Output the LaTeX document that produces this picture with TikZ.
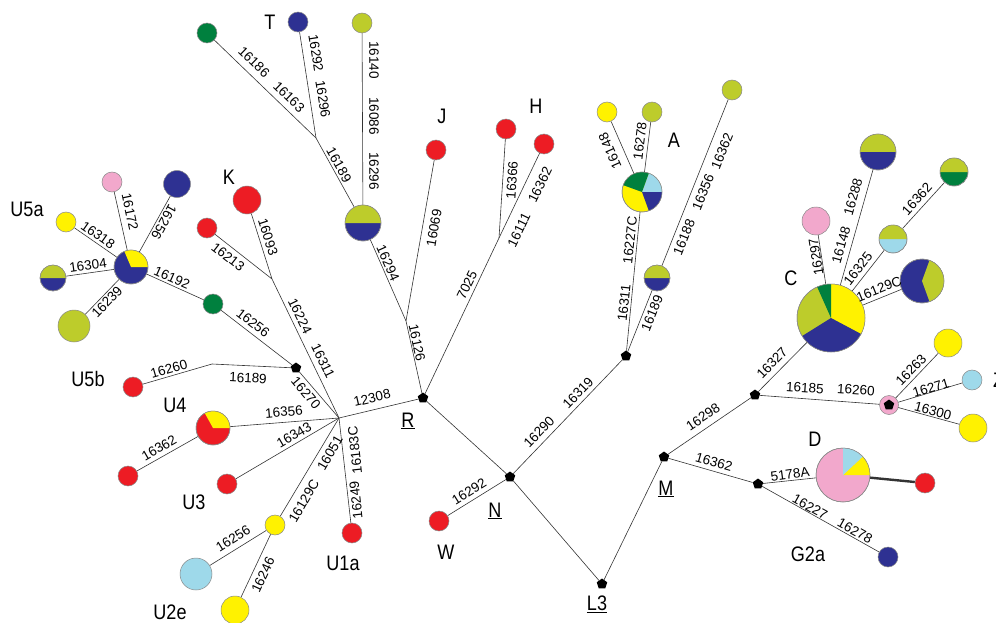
\documentclass[tikz,border=0pt]{standalone}
\usepackage{fontspec}
\setmainfont{Liberation Sans}
\newfontfamily\grpfont[FakeStretch=0.86]{Liberation Sans}
\usetikzlibrary{shapes.geometric,backgrounds}
\definecolor{hapred}{HTML}{ED1C24}
\definecolor{hapyellow}{HTML}{FFF200}
\definecolor{hapblue}{HTML}{2E3192}
\definecolor{hapolive}{HTML}{BDCC2B}
\definecolor{hapgreen}{HTML}{00803E}
\definecolor{happink}{HTML}{F2A8CC}
\definecolor{haplight}{HTML}{9ED9EA}
\definecolor{hapedge}{HTML}{8A8A8A}

% pie slice: node, radius, from, to, colour
\newcommand{\slice}[5]{\fill[#5] (#1.center) -- ++(#3:#2) arc[start angle=#3, end angle=#4, radius=#2] -- cycle;}
\newcommand{\rim}[2]{\draw[hapedge, line width=0.5pt] (#1.center) circle[radius=#2];}

\begin{document}
\begin{tikzpicture}[x=1pt, y=-1pt,
    hap/.style={circle, draw=hapedge, line width=0.5pt, fill=#1, inner sep=0pt},
    jct/.style={regular polygon, regular polygon sides=5, fill=black, inner sep=0pt, minimum size=11pt},
    link/.style={draw=black!80, line width=0.6pt},
    mut/.style={font=\fontsize{13.5}{15}\selectfont, inner sep=0pt},
    grp/.style={font=\grpfont\fontsize{21}{23}\selectfont, inner sep=0pt},
  ]
  \useasboundingbox (0,0) rectangle (996,623);

  % ---- junctions
  \coordinate (hubU) at (339,418);
  \coordinate (bendU) at (212,364);
  \coordinate (nK) at (272,279);
  \coordinate (nT) at (316,138);
  \coordinate (nJ) at (406,321);
  \coordinate (nH) at (499,238);
  \node[hap=happink, minimum size=19pt] (zring) at (889,405) {};
  \node[jct] (R) at (423,398) {};
  \node[jct] (N) at (510,477) {};
  \node[jct] (L3) at (602,584) {};
  \node[jct] (M) at (664,457) {};
  \node[jct] (nA) at (626,356) {};
  \node[jct] (nC) at (755,395) {};
  \node[jct] (nD) at (758,484) {};
  \node[jct] (nU5) at (296,368) {};
  \node[jct] (nZ) at (889,405) {};

  % ---- U branch
  \node[hap=hapblue, minimum size=34pt] (u5hub) at (131,267) {};
  \slice{u5hub}{17pt}{0}{113}{hapyellow} \rim{u5hub}{17pt}
  \node[hap=happink, minimum size=20pt] (u5pink) at (112,182) {};
  \node[hap=hapblue, minimum size=27pt] (u5blue) at (177,184) {};
  \node[hap=hapyellow, minimum size=20pt] (u5yel) at (66,222) {};
  \node[hap=hapblue, minimum size=26pt] (u5half) at (53,278) {};
  \slice{u5half}{13pt}{0}{180}{hapolive} \rim{u5half}{13pt}
  \node[hap=hapolive, minimum size=32pt] (u5olive) at (74,326) {};
  \node[hap=hapgreen, minimum size=20pt] (u5green) at (213,304) {};
  \node[hap=hapred, minimum size=20pt] (U5b) at (133,387) {};
  \node[hap=hapred, minimum size=34pt] (U4) at (213,428) {};
  \slice{U4}{17pt}{0}{119}{hapyellow} \rim{U4}{17pt}
  \node[hap=hapred, minimum size=20pt] (U4leaf) at (128,476) {};
  \node[hap=hapred, minimum size=20pt] (U3) at (227,484) {};
  \node[hap=hapyellow, minimum size=20pt] (U2) at (275,525) {};
  \node[hap=haplight, minimum size=32pt] (U2e) at (196,574) {};
  \node[hap=hapyellow, minimum size=28pt] (U2leaf) at (235,610) {};
  \node[hap=hapred, minimum size=20pt] (U1a) at (352,533) {};

  % ---- K, T, J, H
  \node[hap=hapred, minimum size=28pt] (K) at (247,200) {};
  \node[hap=hapred, minimum size=20pt] (K2) at (207,228) {};
  \node[hap=hapgreen, minimum size=20pt] (Tgreen) at (207,33) {};
  \node[hap=hapblue, minimum size=20pt] (Tblue) at (298,22) {};
  \node[hap=hapolive, minimum size=20pt] (Tolive) at (362,23) {};
  \node[hap=hapblue, minimum size=36pt] (Tpie) at (363,223) {};
  \slice{Tpie}{18pt}{0}{180}{hapolive} \rim{Tpie}{18pt}
  \node[hap=hapred, minimum size=20pt] (J) at (436,150) {};
  \node[hap=hapred, minimum size=20pt] (H1) at (506,129) {};
  \node[hap=hapred, minimum size=20pt] (H2) at (544,144) {};

  % ---- N side: A, W
  \node[hap=hapyellow, minimum size=40pt] (Apie) at (642,192) {};
  \slice{Apie}{20pt}{0}{70}{haplight}
  \slice{Apie}{20pt}{70}{160}{hapgreen}
  \slice{Apie}{20pt}{290}{360}{hapblue} \rim{Apie}{20pt}
  \node[hap=hapyellow, minimum size=20pt] (Ayel) at (607,112) {};
  \node[hap=hapolive, minimum size=20pt] (Aolive) at (652,112) {};
  \node[hap=hapblue, minimum size=26pt] (Ahalf) at (657,278) {};
  \slice{Ahalf}{13pt}{0}{180}{hapolive} \rim{Ahalf}{13pt}
  \node[hap=hapolive, minimum size=20pt] (Atop) at (732,90) {};
  \node[hap=hapred, minimum size=20pt] (W) at (439,521) {};

  % ---- M side: C, Z, D, G2a
  \node[hap=hapolive, minimum size=68pt] (Cpie) at (831,318) {};
  \slice{Cpie}{34pt}{-28}{90}{hapyellow}
  \slice{Cpie}{34pt}{90}{114}{hapgreen}
  \slice{Cpie}{34pt}{212}{332}{hapblue} \rim{Cpie}{34pt}
  \node[hap=happink, minimum size=28pt] (Cpink) at (816,221) {};
  \node[hap=hapblue, minimum size=36pt] (Chalf1) at (878,152) {};
  \slice{Chalf1}{18pt}{0}{180}{hapolive} \rim{Chalf1}{18pt}
  \node[hap=haplight, minimum size=28pt] (Chalf2) at (893,239) {};
  \slice{Chalf2}{14pt}{0}{180}{hapolive} \rim{Chalf2}{14pt}
  \node[hap=hapgreen, minimum size=28pt] (Chalf3) at (954,172) {};
  \slice{Chalf3}{14pt}{0}{180}{hapolive} \rim{Chalf3}{14pt}
  \node[hap=hapblue, minimum size=44pt] (Cpie2) at (922,281) {};
  \slice{Cpie2}{22pt}{-70}{70}{hapolive} \rim{Cpie2}{22pt}
  \node[hap=hapyellow, minimum size=28pt] (Zy1) at (948,343) {};
  \node[hap=haplight, minimum size=20pt] (Zlb) at (972,380) {};
  \node[hap=hapyellow, minimum size=28pt] (Zy2) at (973,428) {};
  \node[hap=happink, minimum size=54pt] (Dpie) at (843,475) {};
  \slice{Dpie}{27pt}{0}{43}{hapyellow}
  \slice{Dpie}{27pt}{43}{90}{haplight} \rim{Dpie}{27pt}
  \node[hap=hapred, minimum size=20pt] (Dred) at (925,483) {};
  \node[hap=hapblue, minimum size=20pt] (G2a) at (888,557) {};

  % ---- links, behind the circles
  \begin{scope}[on background layer]
    \draw[link] (u5hub) -- (u5pink);
    \draw[link] (u5hub) -- (u5blue);
    \draw[link] (u5hub) -- (u5yel);
    \draw[link] (u5hub) -- (u5half);
    \draw[link] (u5hub) -- (u5olive);
    \draw[link] (u5hub) -- (u5green) -- (nU5);
    \draw[link] (U5b) -- (bendU) -- (nU5);
    \draw[link] (nU5) -- (hubU) -- (R);
    \draw[link] (U4) -- (hubU);
    \draw[link] (U4) -- (U4leaf);
    \draw[link] (U3) -- (hubU);
    \draw[link] (U2) -- (hubU);
    \draw[link] (U2) -- (U2e);
    \draw[link] (U2) -- (U2leaf);
    \draw[link] (U1a) -- (hubU);
    \draw[link] (K) -- (nK) -- (hubU);
    \draw[link] (K2) -- (nK);
    \draw[link] (Tgreen) -- (nT) -- (Tpie);
    \draw[link] (Tblue) -- (nT);
    \draw[link] (Tolive) -- (Tpie);
    \draw[link] (Tpie) -- (nJ) -- (R);
    \draw[link] (J) -- (nJ);
    \draw[link] (H1) -- (nH);
    \draw[link] (H2) -- (nH) -- (R);
    \draw[link] (R) -- (N) -- (L3) -- (M);
    \draw[link] (W) -- (N) -- (nA);
    \draw[link] (nA) -- (Apie) -- (Ayel);
    \draw[link] (Apie) -- (Aolive);
    \draw[link] (nA) -- (Ahalf) -- (Atop);
    \draw[link] (M) -- (nC) -- (Cpie);
    \draw[link] (Cpie) -- (Cpink);
    \draw[link] (Cpie) -- (Chalf1);
    \draw[link] (Cpie) -- (Chalf2) -- (Chalf3);
    \draw[link] (Cpie) -- (Cpie2);
    \draw[link] (nC) -- (nZ) -- (Zy1);
    \draw[link] (nZ) -- (Zlb);
    \draw[link] (nZ) -- (Zy2);
    \draw[link] (M) -- (nD) -- (Dpie);
    \draw[link] (nD) -- (G2a);
    \draw[draw=black!80, line width=2.4pt] (Dpie) -- (Dred);
  \end{scope}

  % ---- mutations, U branch
  \node[mut, rotate=-78] (mu1) at (130,212) {16172};
  \node[mut, rotate=-119] (mu2) at (164,222) {16256};
  \node[mut, rotate=-35] (mu3) at (98,235) {16318};
  \node[mut, rotate=8] (mu4) at (88,265) {16304};
  \node[mut, rotate=46] (mu5) at (107,302) {16239};
  \node[mut, rotate=-24] (mu6) at (172,278) {16192};
  \node[mut, rotate=-38] (mu7) at (253,323) {16256};
  \node[mut, rotate=16] (mu8) at (169,369) {16260};
  \node[mut, rotate=-3] (mu9) at (248,378) {16189};
  \node[mut, rotate=-50] (mu10) at (306,393) {16270};
  \node[mut, rotate=13] (mu11) at (372,398) {12308};
  \node[mut, rotate=5] (mu12) at (284,412) {16356};
  \node[mut, rotate=30] (mu13) at (294,435) {16343};
  \node[mut, rotate=30] (mu14) at (159,448) {16362};
  \node[mut, rotate=60] (mu15) at (330,453) {16051};
  \node[mut, rotate=60] (mu16) at (304,501) {16129C};
  \node[mut, rotate=96] (mu17) at (355,450) {16183C};
  \node[mut, rotate=96] (mu18) at (356,500) {16249};
  \node[mut, rotate=32] (mu19) at (233,539) {16256};
  \node[mut, rotate=65] (mu20) at (263,575) {16246};

  % ---- mutations, K T J H
  \node[mut, rotate=-72] (mk1) at (268,237) {16093};
  \node[mut, rotate=-38] (mk2) at (228,257) {16213};
  \node[mut, rotate=-64] (mk3) at (300,316) {16224};
  \node[mut, rotate=-64] (mk4) at (323,361) {16311};
  \node[mut, rotate=-44] (mt1) at (254,62) {16186};
  \node[mut, rotate=-44] (mt2) at (289,97) {16163};
  \node[mut, rotate=-81] (mt3) at (316,53) {16292};
  \node[mut, rotate=-81] (mt4) at (323,99) {16296};
  \node[mut, rotate=-61] (mt5) at (339,165) {16189};
  \node[mut, rotate=-90] (mt6) at (374,60) {16140};
  \node[mut, rotate=-90] (mt7) at (374,116) {16086};
  \node[mut, rotate=-90] (mt8) at (374,171) {16296};
  \node[mut, rotate=-66] (mt9) at (388,263) {16294};
  \node[mut, rotate=80] (mj1) at (434,228) {16069};
  \node[mut, rotate=-78] (mj2) at (417,343) {16126};
  \node[mut, rotate=86] (mh1) at (512,180) {16366};
  \node[mut, rotate=64] (mh2) at (540,185) {16362};
  \node[mut, rotate=64] (mh3) at (519,230) {16111};
  \node[mut, rotate=64] (mh4) at (467,285) {7025};

  % ---- mutations, N side
  \node[mut, rotate=114] (ma1) at (610,151) {16148};
  \node[mut, rotate=83] (ma2) at (640,141) {16278};
  \node[mut, rotate=84] (ma3) at (630,240) {16227C};
  \node[mut, rotate=84] (ma4) at (624,303) {16311};
  \node[mut, rotate=68] (ma5) at (652,313) {16189};
  \node[mut, rotate=68] (ma6) at (684,237) {16188};
  \node[mut, rotate=68] (ma7) at (703,192) {16356};
  \node[mut, rotate=68] (ma8) at (722,151) {16362};
  \node[mut, rotate=46] (mn1) at (578,393) {16319};
  \node[mut, rotate=46] (mn2) at (539,432) {16290};
  \node[mut, rotate=32] (mn3) at (469,492) {16292};

  % ---- mutations, M side
  \node[mut, rotate=34] (mm1) at (703,417) {16298};
  \node[mut, rotate=46] (mm2) at (772,363) {16327};
  \node[mut, rotate=99] (mc1) at (816,257) {16297};
  \node[mut, rotate=74] (mc2) at (841,245) {16148};
  \node[mut, rotate=74] (mc3) at (853,197) {16288};
  \node[mut, rotate=52] (mc4) at (858,269) {16325};
  \node[mut, rotate=22] (mc5) at (879,289) {16129C};
  \node[mut, rotate=48] (mc6) at (917,199) {16362};
  \node[mut, rotate=-4] (mz1) at (805,388) {16185};
  \node[mut, rotate=-4] (mz2) at (856,390) {16260};
  \node[mut, rotate=46] (mz3) at (911,370) {16263};
  \node[mut, rotate=17] (mz4) at (931,388) {16271};
  \node[mut, rotate=-15] (mz5) at (933,411) {16300};
  \node[mut, rotate=-16] (md1) at (714,462) {16362};
  \node[mut, rotate=8] (md2) at (790,474) {5178A};
  \node[mut, rotate=-29] (md3) at (810,507) {16227};
  \node[mut, rotate=-29] (md4) at (855,531) {16278};

  % ---- haplogroup names
  \node[grp] (gU5a) at (27,209) {U5a};
  \node[grp] (gK) at (229,177) {K};
  \node[grp] (gU5b) at (88,379) {U5b};
  \node[grp] (gU4) at (175,405) {U4};
  \node[grp] (gU3) at (194,502) {U3};
  \node[grp] (gU2e) at (170,612) {U2e};
  \node[grp] (gU1a) at (343,563) {U1a};
  \node[grp] (gR) at (408,421) {\underline{R}};
  \node[grp] (gN) at (495,511) {\underline{N}};
  \node[grp] (gL3) at (597,604) {\underline{L3}};
  \node[grp] (gM) at (666,489) {\underline{M}};
  \node[grp] (gW) at (446,552) {W};
  \node[grp] (gT) at (270,22) {T};
  \node[grp] (gJ) at (442,116) {J};
  \node[grp] (gH) at (536,106) {H};
  \node[grp] (gA) at (674,140) {A};
  \node[grp] (gC) at (791,278) {C};
  \node[grp] (gD) at (815,439) {D};
  \node[grp] (gG2a) at (808,554) {G2a};
  \node[grp, anchor=west] (gZ) at (993,380) {Z};
\end{tikzpicture}
\end{document}
